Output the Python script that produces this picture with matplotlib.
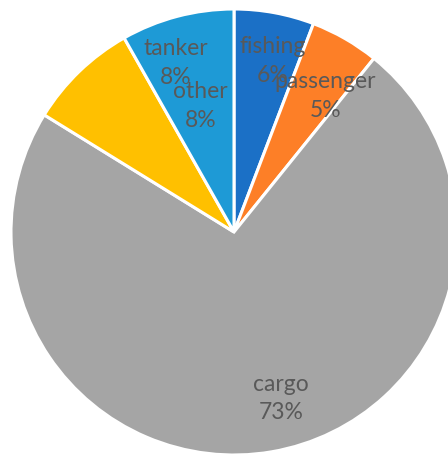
import matplotlib.pyplot as plt
import numpy as np

categories = ['fishing', 'passenger', 'cargo', 'tanker', 'other']
shares = [5.8, 5.0, 73.0, 8.0, 8.2]
colors = ['#1b70c6', '#fd7f27', '#a5a5a5', '#ffc000', '#1e9ad6']

# label placement tweaks (radius fraction, angle shift in degrees)
label_r = [0.785, 0.735, 0.775, 0.80, 0.585]
label_shift = [-2.4, -4, 6, -25, 0]

fig = plt.figure(figsize=(4.48, 4.55), dpi=100)
ax = fig.add_axes([11 / 448, 0, 446 / 448, 446 / 455])

wedges, _ = ax.pie(shares, colors=colors, startangle=90, counterclock=False,
                   wedgeprops={'edgecolor': 'white', 'linewidth': 2.2})

for w, name, val, r, shift in zip(wedges, categories, shares, label_r, label_shift):
    mid = np.deg2rad((w.theta1 + w.theta2) / 2 + shift)
    ax.text(r * np.cos(mid), r * np.sin(mid), f'{name}\n{round(val)}%',
            ha='center', va='center', fontsize=16.5, family='Lato',
            color='#595959', linespacing=1.45)

ax.set_xlim(-1, 1)
ax.set_ylim(-1, 1)
ax.set_aspect('equal')
ax.axis('off')

fig.savefig('out.png', dpi=100)
